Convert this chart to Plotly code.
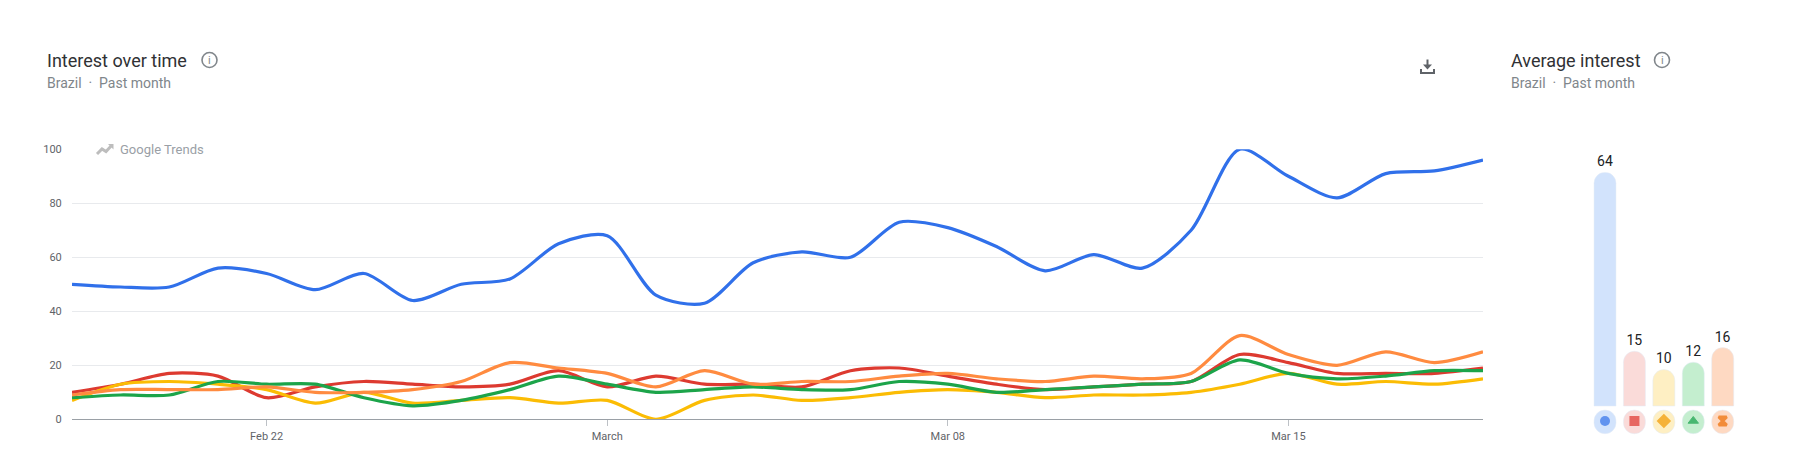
import plotly.graph_objects as go

dates = ["2026-02-18","2026-02-19","2026-02-20","2026-02-21","2026-02-22","2026-02-23","2026-02-24","2026-02-25","2026-02-26","2026-02-27",
         "2026-02-28","2026-03-01","2026-03-02","2026-03-03","2026-03-04","2026-03-05","2026-03-06","2026-03-07","2026-03-08","2026-03-09",
         "2026-03-10","2026-03-11","2026-03-12","2026-03-13","2026-03-14","2026-03-15","2026-03-16","2026-03-17","2026-03-18","2026-03-19"]
blue =   [50,49,49,56,54,48,54,44,50,52,65,68,46,43,58,62,60,73,71,64,55,61,56,70,100,90,82,91,92,96]
red =    [10,13,17,16,8,12,14,13,12,13,18,12,16,13,13,12,18,19,16,13,11,12,13,14,24,21,17,17,17,19]
yellow = [7,13,14,13,11,6,10,6,7,8,6,7,0,7,9,7,8,10,11,10,8,9,9,10,13,17,13,14,13,15]
green =  [8,9,9,14,13,13,8,5,7,11,16,13,10,11,12,11,11,14,13,10,11,12,13,14,22,17,15,16,18,18]
orange = [9,11,11,11,12,10,10,11,14,21,19,17,12,18,13,14,14,16,17,15,14,16,15,17,31,24,20,25,21,25]
series_names = ["Term 1","Term 2","Term 3","Term 4","Term 5"]
line_colors = ["#3070ea","#dd3a30","#fbbc04","#1ca44a","#ff8b40"]
pale_colors = ["#d2e3fc","#fadbd9","#feefc3","#c4eecf","#fed9c2"]
marker_colors = ["#3070ea","#e0352f","#f29900","#14a14a","#ee6c00"]
marker_symbols = ["circle","square","diamond","triangle-up","hourglass"]
marker_sizes = [10,8,9,9,8]
marker_lines = [0,2,2,1,3]
averages = [64,15,10,12,16]
tick_vals = ["2026-02-22","2026-03-01","2026-03-08","2026-03-15"]
tick_text = ["Feb 22","March","Mar 08","Mar 15"]
# the page keeps an 8 px body margin, so the figure is 16 px smaller than the window
PAGE_MARGIN = 8
W, H = 1796 - 2 * PAGE_MARGIN, 461 - 2 * PAGE_MARGIN
CHART_L, CHART_R, CHART_T, CHART_B = 72, 1483, 149.3, 419.3
BAR_L, BAR_R, BAR_T, BAR_B = 1590.3, 1737.4, 172.3, 435.2
TILE_GAP, TILE_H, TILE_MID = 1.1, 6.5, -4.1

def px_x(p): return (p - PAGE_MARGIN) / W
def px_y(p): return 1 - (p - PAGE_MARGIN) / H

fig = go.Figure()
for n, c, v in zip(series_names, line_colors, [blue, red, yellow, green, orange]):
    fig.add_trace(go.Scatter(x=dates, y=v, name=n, mode="lines", xaxis="x", yaxis="y", cliponaxis=False,
                             line=dict(color=c, width=3.2, shape="spline", smoothing=0.8), showlegend=False))
fig.add_trace(go.Bar(x=series_names, y=averages, xaxis="x2", yaxis="y2", marker=dict(color=pale_colors, cornerradius=11),
                     text=averages, textposition="outside", textfont=dict(size=14, color="#202124", family="Roboto"),
                     cliponaxis=False, showlegend=False, width=0.748))
fig.add_trace(go.Bar(x=series_names, y=[-TILE_H]*5, base=[-TILE_GAP]*5, xaxis="x2", yaxis="y2",
                     marker=dict(color=pale_colors, cornerradius=11), cliponaxis=False, showlegend=False, width=0.748))
fig.add_trace(go.Scatter(x=series_names, y=[TILE_MID]*5, xaxis="x2", yaxis="y2", mode="markers", showlegend=False, cliponaxis=False,
                         marker=dict(size=marker_sizes, color=marker_colors, symbol=marker_symbols,
                                     line=dict(width=marker_lines, color=marker_colors))))
fig.update_layout(
    width=W, height=H, margin=dict(l=0, r=0, t=0, b=0, pad=0, autoexpand=False), paper_bgcolor="white", plot_bgcolor="white",
    font=dict(family="Roboto", color="#5f6368"), barmode="overlay",
    xaxis=dict(domain=[px_x(CHART_L), px_x(CHART_R)], range=["2026-02-18","2026-03-19"], tickvals=tick_vals, ticktext=tick_text,
               showgrid=False, showline=True, linecolor="#9aa0a6", linewidth=1, ticks="outside", ticklen=6, tickcolor="#bdc1c6",
               tickfont=dict(size=11, color="#5f6368"), anchor="y", automargin=False),
    yaxis=dict(domain=[px_y(CHART_B), px_y(CHART_T)], range=[0,100], tickvals=[0,20,40,60,80,100], gridcolor="#e8eaed",
               zeroline=False, tickfont=dict(size=11, color="#5f6368"), ticks="outside", ticklen=7, tickcolor="rgba(0,0,0,0)", anchor="x", automargin=False),
    xaxis2=dict(domain=[px_x(BAR_L), px_x(BAR_R)], range=[-0.5,4.5], anchor="y2", visible=False, automargin=False),
    yaxis2=dict(domain=[px_y(BAR_B), px_y(BAR_T)], range=[-8,64], anchor="x2", visible=False, automargin=False),
)

def text(t, x, y, size, color, anchor="left"):
    fig.add_annotation(text=t, xref="paper", yref="paper", x=px_x(x), y=px_y(y), xanchor=anchor, yanchor="middle",
                       showarrow=False, font=dict(size=size, color=color))

def path(points, color, width, close=False, fill=None):
    d = "M " + " L ".join(f"{px_x(a):.5f},{px_y(b):.5f}" for a, b in points) + (" Z" if close else "")
    fig.add_shape(type="path", xref="paper", yref="paper", path=d, line=dict(color=color, width=width),
                  fillcolor=fill)

# gap in the top gridline behind the watermark
fig.add_shape(type="rect", xref="paper", yref="paper", x0=px_x(92), x1=px_x(204), y0=px_y(145), y1=px_y(153),
              line=dict(width=0), fillcolor="white")
path([(97,154),(102,149),(106,151.5),(112,145)], "#bdbdbd", 3)
path([(108,144),(113.5,144),(113.5,149.5)], "#bdbdbd", 0, close=True, fill="#bdbdbd")
text("Google Trends", 118, 149.5, 13, "#9aa0a6")

for x_title, x_info, title in [(45, 209.5, "Interest over time"), (1509, 1662, "Average interest")]:
    text(title, x_title, 60, 18, "#303134")
    text("Brazil  ·  Past month", x_title, 83, 14, "#80868b")
    fig.add_shape(type="circle", xref="paper", yref="paper", x0=px_x(x_info-7.5), x1=px_x(x_info+7.5),
                  y0=px_y(67.5), y1=px_y(52.5), line=dict(color="#80868b", width=1.6))
    text("i", x_info, 60, 11, "#80868b", anchor="center")

# download icon
path([(1427.5,59.5),(1427.5,67)], "#5f6368", 2)
path([(1423,64.5),(1432,64.5),(1427.5,69.5)], "#5f6368", 0, close=True, fill="#5f6368")
path([(1421,69),(1421,73),(1434,73),(1434,69)], "#5f6368", 2)

fig.write_html("out.html")
